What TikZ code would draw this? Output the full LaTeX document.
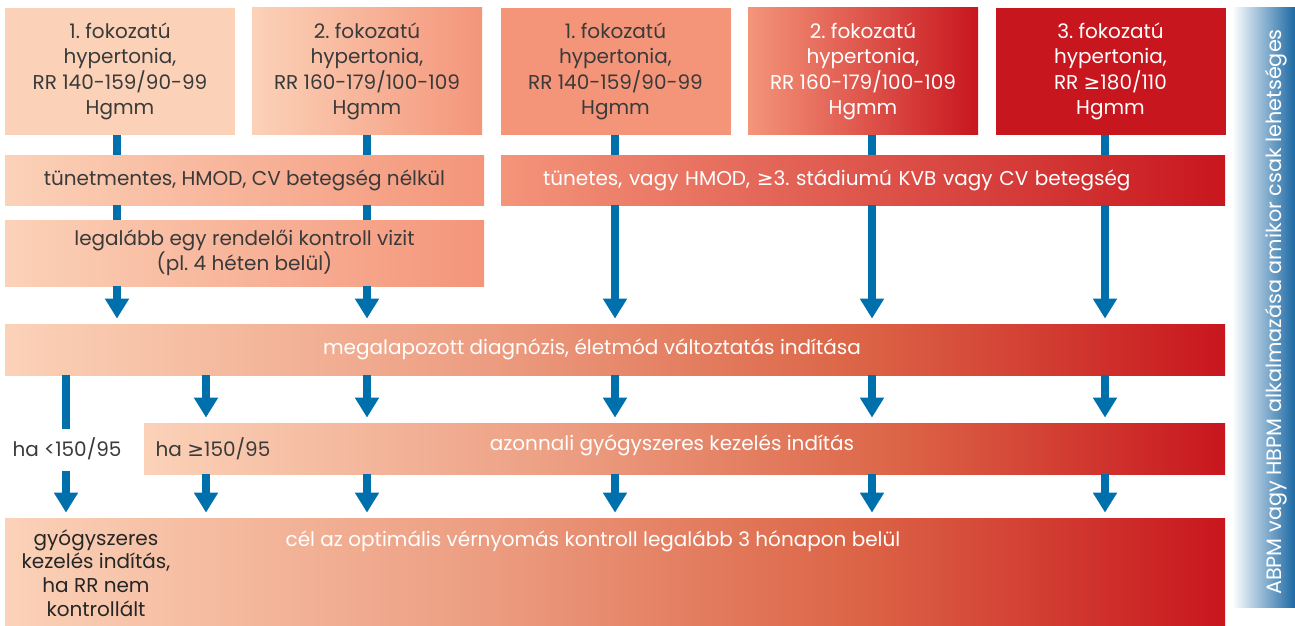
\documentclass[tikz,border=0pt]{standalone}
\usepackage{fontspec}
\setmainfont{Poppins}
\newfontfamily\symfnt{DejaVu Sans}
\newcommand{\gesym}{{\symfnt ≥}}
\usetikzlibrary{arrows.meta}
\frenchspacing

\definecolor{peach}{HTML}{FBD2B8}
\definecolor{salmon}{HTML}{F4957A}
\definecolor{midsalmon}{HTML}{EC9C80}
\definecolor{deeporange}{HTML}{DC6446}
\definecolor{hired}{HTML}{C8161E}
\definecolor{arrowblue}{HTML}{0070AD}
\definecolor{barblue}{HTML}{1C69A4}
\definecolor{txtdark}{HTML}{3A3A3A}

% long rows: peach -> salmon -> orange -> red
\pgfdeclarehorizontalshading{longrow}{100bp}{color(0bp)=(peach); color(25bp)=(peach);
  color(45bp)=(midsalmon); color(60bp)=(deeporange); color(75bp)=(hired); color(100bp)=(hired)}

\begin{document}
\begin{tikzpicture}[x=0.5pt, y=-0.5pt,
    cell/.style={inner sep=0pt, align=center, text=txtdark, font=\fontsize{10}{12.75}\selectfont},
    topbox/.style={cell, minimum width=115pt, minimum height=63.5pt},
    rowtext/.style={inner sep=0pt, align=center, text=white, font=\fontsize{10}{12.75}\selectfont},
    stem/.style={line width=4pt, draw=arrowblue},
    flow/.style={stem, -{Triangle[width=11.5pt, length=10pt]}, shorten >=2.5pt}]
    \useasboundingbox (0,0) rectangle (1295,626);

    % Stages of hypertension
    \node[topbox, fill=peach] (box1) at (120,71.5) {1. fokozatú\\ hypertonia,\\ RR 140-159/90-99\\ Hgmm};
    \node[topbox, left color=peach, right color=salmon] (box2) at (367,71.5) {2. fokozatú\\ hypertonia,\\ RR 160-179/100-109\\ Hgmm};
    \node[topbox, fill=salmon] (box3) at (615.5,71.5) {1. fokozatú\\ hypertonia,\\ RR 140-159/90-99\\ Hgmm};
    \node[topbox, left color=salmon, right color=hired, text=white] (box4) at (863,71.5) {2. fokozatú\\ hypertonia,\\ RR 160-179/100-109\\ Hgmm};
    \node[topbox, fill=hired, text=white] (box5) at (1110.5,71.5) {3. fokozatú\\ hypertonia,\\ RR \gesym180/110\\ Hgmm};

    % Second and third rows
    \node[cell, minimum width=239.5pt, minimum height=25pt, left color=peach, right color=salmon] (rowtwoL) at (244.5,180) {tünetmentes, HMOD, CV betegség nélkül};
    \node[cell, minimum width=362pt, minimum height=25pt, left color=salmon, right color=hired, text=white,
        inner xsep=21pt, text width=320pt, align=left] (rowtwoR) at (863,180) {tünetes, vagy HMOD, \gesym3. stádiumú KVB vagy CV betegség};
    \node[cell, minimum width=239.5pt, minimum height=33pt, left color=peach, right color=salmon] (rowthree) at (244.5,253) {legalább egy rendelői kontroll vizit\\ (pl. 4 héten belül)};

    % Full width rows
    \node[minimum width=610pt, minimum height=25.5pt, inner sep=0pt, shading=longrow] (rowfour) at (615,349.5) {};
    \node[rowtext] (diag) at (592,349.5) {megalapozott diagnózis, életmód változtatás indítása};
    \node[minimum width=540.5pt, minimum height=25.5pt, inner sep=0pt, shading=longrow] (rowfive) at (684.5,448.5) {};
    \node[rowtext] (drug) at (672,445) {azonnali gyógyszeres kezelés indítás};
    \node[cell] (hage) at (213,449) {ha \gesym150/95};
    \node[cell] (halt) at (67,449) {ha <150/95};
    \node[minimum width=610pt, minimum height=54pt, inner sep=0pt, shading=longrow] (rowsix) at (615,572) {};
    \node[rowtext] (goal) at (593,541) {cél az optimális vérnyomás kontroll legalább 3 hónapon belül};
    \node[cell, text=black!85, font=\fontsize{10}{11.9}\selectfont] (uncontrolled) at (96,573) {gyógyszeres\\ kezelés indítás,\\ ha RR nem\\ kontrollált};

    % ABPM / HBPM side bar
    \shade[left color=white, right color=barblue] (1232,8) rectangle (1295,607);
    \node[rowtext, rotate=90, font=\fontsize{10.4}{12.75}\selectfont] (abpm) at (1276,312) {ABPM vagy HBPM alkalmazása amikor csak lehetséges};

    % Columns of the arrows
    \coordinate (c1) at (117,0);
    \coordinate (c2) at (367,0);
    \coordinate (c3) at (615,0);
    \coordinate (c4) at (872,0);
    \coordinate (c5) at (1105,0);
    \coordinate (d1) at (66,0);
    \coordinate (d2) at (206,0);
    \coordinate (lowtop) at (66,429);
    \coordinate (lowbot) at (66,471);

    % Arrows down to the diagnosis
    \draw[stem] (box1.south -| c1) -- (rowtwoL.north -| c1);
    \draw[stem] (rowtwoL.south -| c1) -- (rowthree.north -| c1);
    \draw[flow] (rowthree.south -| c1) -- (rowfour.north -| c1);
    \draw[stem] (box2.south -| c2) -- (rowtwoL.north -| c2);
    \draw[stem] (rowtwoL.south -| c2) -- (rowthree.north -| c2);
    \draw[flow] (rowthree.south -| c2) -- (rowfour.north -| c2);
    \draw[stem] (box3.south -| c3) -- (rowtwoR.north -| c3);
    \draw[flow] (rowtwoR.south -| c3) -- (rowfour.north -| c3);
    \draw[stem] (box4.south -| c4) -- (rowtwoR.north -| c4);
    \draw[flow] (rowtwoR.south -| c4) -- (rowfour.north -| c4);
    \draw[stem] (box5.south -| c5) -- (rowtwoR.north -| c5);
    \draw[flow] (rowtwoR.south -| c5) -- (rowfour.north -| c5);

    % Arrows to treatment and goal
    \draw[stem] (rowfour.south -| d1) -- (lowtop);
    \draw[flow] (lowbot) -- (rowsix.north -| d1);
    \draw[flow] (rowfour.south -| d2) -- (rowfive.north -| d2);
    \draw[flow] (rowfive.south -| d2) -- (rowsix.north -| d2);
    \draw[flow] (rowfour.south -| c2) -- (rowfive.north -| c2);
    \draw[flow] (rowfive.south -| c2) -- (rowsix.north -| c2);
    \draw[flow] (rowfour.south -| c3) -- (rowfive.north -| c3);
    \draw[flow] (rowfive.south -| c3) -- (rowsix.north -| c3);
    \draw[flow] (rowfour.south -| c4) -- (rowfive.north -| c4);
    \draw[flow] (rowfive.south -| c4) -- (rowsix.north -| c4);
    \draw[flow] (rowfour.south -| c5) -- (rowfive.north -| c5);
    \draw[flow] (rowfive.south -| c5) -- (rowsix.north -| c5);
\end{tikzpicture}
\end{document}
